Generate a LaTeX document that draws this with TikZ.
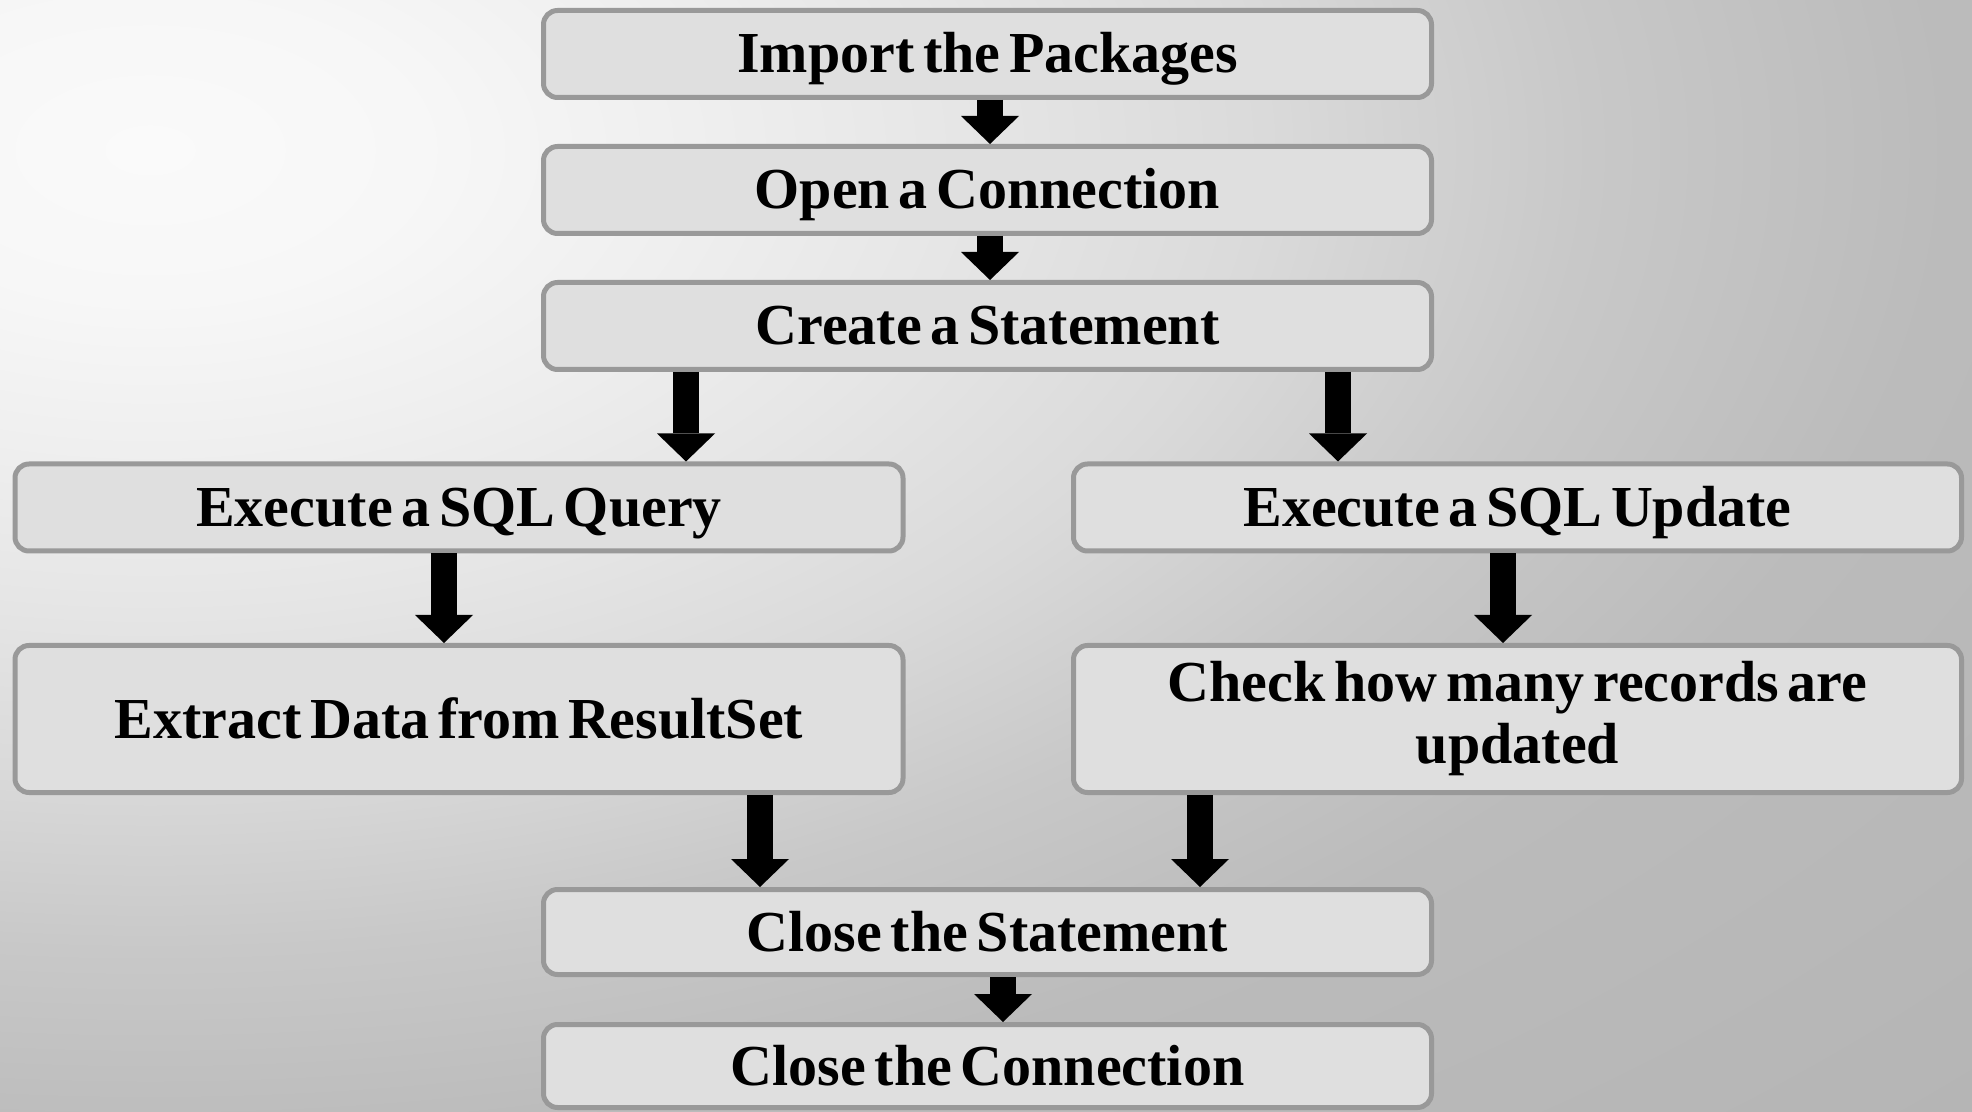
\documentclass[tikz,border=0pt]{standalone}
\usepackage{fontspec}
\setmainfont{Liberation Serif}[WordSpace=0.6]
\usetikzlibrary{arrows.meta}
\definecolor{bgA}{HTML}{FAFAFA}
\definecolor{bgB}{HTML}{F7F7F7}
\definecolor{bgC}{HTML}{EFEFEF}
\definecolor{bgD}{HTML}{E6E6E6}
\definecolor{bgE}{HTML}{DADADA}
\definecolor{bgF}{HTML}{C8C8C8}
\definecolor{bgG}{HTML}{BBBBBB}
\definecolor{bgH}{HTML}{B5B5B5}
\definecolor{boxline}{HTML}{999999}
\definecolor{boxfill}{HTML}{DFDFDF}
\pgfdeclareradialshading{bgshade}{\pgfpointorigin}{color(0bp)=(bgA); color(2.68bp)=(bgB); color(5.36bp)=(bgC); color(8.04bp)=(bgD); color(11.07bp)=(bgE); color(14.29bp)=(bgF); color(17.86bp)=(bgG); color(25bp)=(bgH); color(50bp)=(bgH)}
\tikzset{
  box/.style={draw=boxline, line width=2.5pt, fill=boxfill, rounded corners=7pt,
    minimum width=444pt, minimum height=43.5pt, inner sep=0pt,
    font=\fontsize{29}{31}\selectfont\bfseries, align=center},
  oneline/.style={text height=19pt, text depth=0pt},
  fat/.style={line width=13pt, draw=black, -{Triangle[length=14pt,width=29pt,line width=0pt]}}
}
\begin{document}
\begin{tikzpicture}[x=0.5pt,y=-0.5pt]
\useasboundingbox (0,0) rectangle (1972,1112);
\fill[bgH] (0,0) rectangle (1972,1112);
\begin{scope}
  \clip (0,0) rectangle (1972,1112);
  \shade[shading=bgshade] (150,150) ellipse [x radius=1260pt, y radius=700pt];
\end{scope}

\node[box,oneline] (imp) at (987.5,54) {Import the Packages};
\node[box,oneline] (open) at (987.5,190) {Open a Connection};
\node[box,oneline] (create) at (987.5,326) {Create a Statement};
\node[box,oneline] (query) at (459,507.5) {Execute a SQL Query};
\node[box,oneline] (update) at (1517.5,507.5) {Execute a SQL Update};
\node[box,oneline,minimum height=73.5pt] (extract) at (459,719) {Extract Data from ResultSet};
\node[box,minimum height=73.5pt] (check) at (1517.5,719) {Check how many records are\\updated};
\node[box,oneline,minimum height=42.5pt] (closes) at (987.5,932) {Close the Statement};
\node[box,oneline,minimum height=41.5pt] (closec) at (987.5,1066) {Close the Connection};

\path (imp.south) ++(2.5,0) coordinate (a1);
\path (open.south) ++(2.5,0) coordinate (a2);
\path (create.south) ++(-301.5,0) coordinate (a3l);
\path (create.south) ++(350.5,0) coordinate (a3r);
\path (query.south) ++(-15,0) coordinate (a4l);
\path (update.south) ++(-14.5,0) coordinate (a4r);
\path (extract.south) ++(301,0) coordinate (a5l);
\path (check.south) ++(-317.5,0) coordinate (a5r);
\path (closes.south) ++(15.5,0) coordinate (a6);

\draw[fat] (a1) -- (a1 |- open.north);
\draw[fat] (a2) -- (a2 |- create.north);
\draw[fat] (a3l) -- (a3l |- query.north);
\draw[fat] (a3r) -- (a3r |- update.north);
\draw[fat] (a4l) -- (a4l |- extract.north);
\draw[fat] (a4r) -- (a4r |- check.north);
\draw[fat] (a5l) -- (a5l |- closes.north);
\draw[fat] (a5r) -- (a5r |- closes.north);
\draw[fat] (a6) -- (a6 |- closec.north);
\end{tikzpicture}
\end{document}
